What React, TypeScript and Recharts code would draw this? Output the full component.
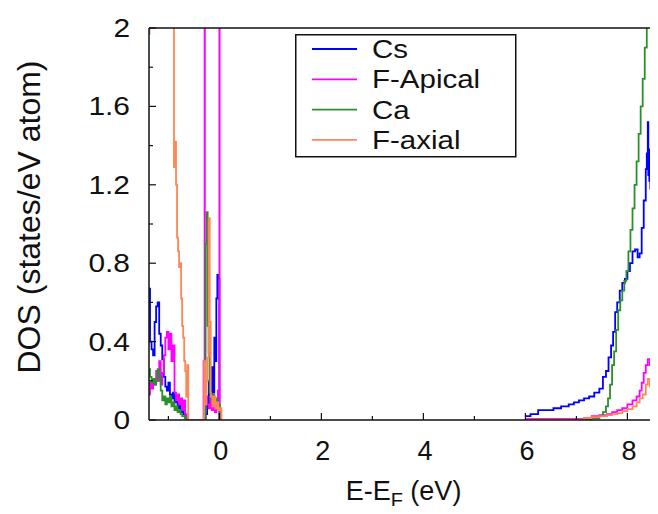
import { LineChart, Line, XAxis, YAxis, Legend, Label } from 'recharts'

// energy grid (eV) and DOS values per species; null marks the band gap (no states plotted)
const csEnergy = [
  -1.38, -1.36, -1.33, -1.3, -1.27, -1.24, -1.21, -1.18, -1.15, -1.12, -1.09, -1.06, -1.03, -1.0, -0.97,
  -0.94, -0.91, -0.88, -0.85, -0.82, -0.79, -0.76, -0.73, -0.7, -0.67, -0.64,
  -0.3, -0.27, -0.24, -0.21, -0.18, -0.15, -0.12, -0.1, -0.08, -0.06, -0.04, -0.02, 0.0, 0.03,
  3.0,
  6.0, 6.1, 6.25, 6.4, 6.55, 6.7, 6.85, 6.95, 7.05, 7.15, 7.25, 7.35, 7.45,
  7.52, 7.58, 7.63, 7.68, 7.72, 7.76, 7.8, 7.85, 7.9, 7.95, 8.0, 8.05, 8.1, 8.15, 8.2, 8.24, 8.28, 8.32, 8.36, 8.38, 8.4,
  8.41, 8.42, 8.43, 8.44, 8.45, 8.47, 8.49, 8.51, 8.53, 8.55, 8.57, 8.6,
]
const csDos = [
  0.67, 0.4, 0.36, 0.33, 0.5, 0.58, 0.6, 0.44, 0.38, 0.31, 0.22, 0.17, 0.15, 0.19, 0.13,
  0.11, 0.14, 0.09, 0.12, 0.06, 0.08, 0.04, 0.05, 0.03, 0.01, 0,
  0, 0.03, 0.08, 0.2, 0.08, 0.27, 0.14, 0.42, 0.3, 0.62, 0.74, 0.72, 0, 0,
  null,
  0.02, 0.03, 0.05, 0.05, 0.06, 0.07, 0.08, 0.09, 0.1, 0.11, 0.12, 0.14, 0.16,
  0.22, 0.25, 0.32, 0.38, 0.45, 0.55, 0.6, 0.66, 0.7, 0.72, 0.76, 0.8, 0.86, 0.87, 0.83, 0.85, 0.98, 1.12, 1.28, 1.36, 1.52,
  1.25, 1.38, 1.22, 1.34, 1.18, 1.3, 1.25, 1.31, 1.2, 1.02, 0.95, 0.93,
]

const apicalEnergy = [
  -1.38, -1.36, -1.33, -1.3, -1.27, -1.24, -1.21, -1.18, -1.15, -1.12, -1.09, -1.06, -1.03, -1.0, -0.97,
  -0.94, -0.91, -0.88, -0.85, -0.82, -0.79, -0.76, -0.73, -0.7, -0.67, -0.64,
  -0.33, -0.31, -0.29, -0.285, -0.27, -0.24, -0.21, -0.18, -0.15, -0.12, -0.09, -0.06, -0.03, 0.0, 0.005, 0.03,
  3.0,
  6.0, 7.1, 7.15, 7.3, 7.45, 7.6, 7.7, 7.8, 7.9, 8.0, 8.1, 8.18, 8.24, 8.28, 8.32, 8.36, 8.4, 8.44, 8.48, 8.52, 8.56, 8.6,
]
const apicalDos = [
  0.13, 0.19, 0.16, 0.21, 0.18, 0.25, 0.2, 0.3, 0.18, 0.24, 0.33, 0.42, 0.45, 0.36, 0.44,
  0.3, 0.38, 0.14, 0.1, 0.13, 0.08, 0.11, 0.05, 0.1, 0.03, 0,
  0, 0.3, 3, 0.12, 0.12, 0.08, 0.06, 0.12, 0.05, 0.09, 0.04, 0.1, 0.15, 3, 0, 0,
  null,
  0.005, 0.005, 0.01, 0.02, 0.025, 0.03, 0.04, 0.05, 0.06, 0.08, 0.1, 0.12, 0.15, 0.19, 0.24, 0.28, 0.31, 0.28, 0.26, 0.24, 0.22, 0.21,
]

const caEnergy = [
  -1.38, -1.36, -1.33, -1.3, -1.27, -1.24, -1.21, -1.18, -1.15, -1.12, -1.09, -1.06, -1.03, -1.0, -0.97,
  -0.94, -0.91, -0.88, -0.85, -0.82, -0.79, -0.76, -0.73, -0.7, -0.67, -0.64,
  -0.28, -0.27, -0.25, -0.23, -0.21, -0.19, -0.16, -0.13, -0.1, -0.07, -0.04, -0.01, 0.01, 0.04,
  3.0,
  6.0, 7.1, 7.15, 7.3, 7.45, 7.52, 7.58, 7.62, 7.66, 7.7, 7.74, 7.78, 7.82, 7.86, 7.9, 7.94, 7.98,
  8.02, 8.06, 8.1, 8.14, 8.18, 8.22, 8.26, 8.3, 8.34, 8.38, 8.42, 8.6,
]
const caDos = [
  0.26, 0.22, 0.19, 0.21, 0.18, 0.2, 0.26, 0.22, 0.15, 0.1, 0.12, 0.08, 0.11, 0.09, 0.12,
  0.07, 0.09, 0.05, 0.07, 0.04, 0.05, 0.03, 0.02, 0.02, 0.01, 0,
  0, 0.9, 1.06, 0.48, 0.34, 0.14, 0.1, 0.13, 0.08, 0.11, 0.06, 0.08, 0, 0,
  null,
  0, 0, 0.005, 0.01, 0.02, 0.04, 0.07, 0.11, 0.18, 0.28, 0.35, 0.46, 0.56, 0.61, 0.66, 0.71, 0.76,
  0.86, 0.97, 1.08, 1.2, 1.32, 1.46, 1.6, 1.74, 1.9, 2.1, 2.4, 2.8,
]

const axialEnergy = [
  -1.38, -1.37, -0.91,
  -0.89, -0.87, -0.85, -0.83, -0.81, -0.79, -0.77, -0.75, -0.73, -0.71, -0.69, -0.67, -0.65, -0.63, -0.61,
  -0.31, -0.3, -0.28, -0.26, -0.23, -0.21, -0.19, -0.17, -0.14, -0.11, -0.08, -0.05, -0.02, 0.01, 0.04,
  3.0,
  6.0, 7.1, 7.15, 7.3, 7.45, 7.6, 7.7, 7.8, 7.9, 8.0, 8.1, 8.18, 8.24, 8.3, 8.36, 8.4, 8.44, 8.48, 8.52, 8.56, 8.6,
]
const axialDos = [
  1.97, 3, 3,
  1.29, 1.42, 1.2, 0.93, 0.86, 0.78, 0.8, 0.62, 0.48, 0.42, 0.3, 0.25, 0.12, 0.28, 0,
  0, 0.3, 0.08, 0.2, 0.32, 1.03, 0.5, 0.12, 0.07, 0.12, 0.06, 0.09, 0.05, 0.06, 0,
  null,
  0.002, 0.002, 0.01, 0.015, 0.02, 0.025, 0.03, 0.035, 0.045, 0.055, 0.07, 0.09, 0.11, 0.13, 0.18, 0.21, 0.17, 0.18, 0.16, 0.18, 0.17,
]

const xTicks = [-1, 0, 1, 2, 3, 4, 5, 6, 7, 8]
const xLabelTicks = [0, 2, 4, 6, 8]
const yTicks = [0, 0.2, 0.4, 0.6, 0.8, 1, 1.2, 1.4, 1.6, 1.8, 2]
const yLabelTicks = [0, 0.4, 0.8, 1.2, 1.6, 2]

const FONT = '"Liberation Sans", Arial, Helvetica, sans-serif'
const INK = '#111'

function toPoints(energy: number[], dos: (number | null)[]) {
  const n = Math.min(energy.length, dos.length)
  const out: { e: number; dos: number | null }[] = []
  for (let i = 0; i < n; i++) out.push({ e: energy[i], dos: dos[i] })
  return out
}

const series = [
  { name: 'Cs', color: '#0000ff', data: toPoints(csEnergy, csDos) },
  { name: 'F-Apical', color: '#ff00ff', data: toPoints(apicalEnergy, apicalDos) },
  { name: 'Ca', color: '#2a912a', data: toPoints(caEnergy, caDos) },
  { name: 'F-axial', color: '#ff8655', data: toPoints(axialEnergy, axialDos) },
]
const seriesOrder = series.map((s) => s.name)

// gnuplot style: ticks point into the plot, labels only on the major ones
function BottomTick(props: any) {
  const { x, y, payload } = props
  const major = xLabelTicks.includes(payload.value)
  return (
    <g>
      <line x1={x} x2={x} y1={y} y2={y - (major ? 7 : 4)} stroke={INK} strokeWidth={1.2} />
      {major && (
        <text x={x + 1.5} y={y + 40} textAnchor="middle" fontSize={27} fontFamily={FONT} fill={INK}>
          {payload.value}
        </text>
      )}
    </g>
  )
}

function TopTick(props: any) {
  const { x, y, payload } = props
  const major = xLabelTicks.includes(payload.value)
  return <line x1={x} x2={x} y1={y} y2={y + (major ? 7 : 4)} stroke={INK} strokeWidth={1.2} />
}

function LeftTick(props: any) {
  const { x, y, payload } = props
  const major = yLabelTicks.includes(payload.value)
  return (
    <g>
      <line x1={x} x2={x + (major ? 7 : 4)} y1={y} y2={y} stroke={INK} strokeWidth={1.2} />
      {major && (
        <text
          transform={`translate(${x - 19},${y + 9}) scale(1.15,1)`}
          textAnchor="end"
          fontSize={26}
          fontFamily={FONT}
          fill={INK}
        >
          {String(payload.value)}
        </text>
      )}
    </g>
  )
}

function RightTick(props: any) {
  const { x, y, payload } = props
  const major = yLabelTicks.includes(payload.value)
  return <line x1={x} x2={x - (major ? 7 : 4)} y1={y} y2={y} stroke={INK} strokeWidth={1.2} />
}

function XTitle(props: any) {
  const { x, y, width } = props.viewBox
  return (
    <text x={x + width / 2} y={y + 80} textAnchor="middle" fontSize={27} fontFamily={FONT} fill={INK}>
      E-E
      <tspan fontSize={20} dy={7}>F</tspan>
      <tspan dy={-7}> (eV)</tspan>
    </text>
  )
}

function YTitle(props: any) {
  const { x, y, width, height } = props.viewBox
  const cx = x + width - 109
  const cy = y + height / 2 - 7
  return (
    <text
      x={cx}
      y={cy}
      transform={`rotate(-90, ${cx}, ${cy})`}
      textAnchor="middle"
      fontSize={32}
      fontFamily={FONT}
      fill={INK}
    >
      DOS (states/eV atom)
    </text>
  )
}

function LegendBox(props: any) {
  const payload = [...(props.payload || [])].sort(
    (a: any, b: any) => seriesOrder.indexOf(a.value) - seriesOrder.indexOf(b.value)
  )
  return (
    <svg width={222} height={124} style={{ display: 'block' }}>
      <rect x={0.75} y={0.75} width={220} height={122} fill="#fff" stroke={INK} strokeWidth={1.5} />
      {payload.map((entry: any, i: number) => {
        const cy = 15 + i * 30.3
        return (
          <g key={entry.value}>
            <line x1={17} x2={62} y1={cy} y2={cy} stroke={entry.color} strokeWidth={1.8} />
            <text
              transform={`translate(77,${cy + 9}) scale(1.18,1)`}
              fontSize={25}
              fontFamily={FONT}
              fill={INK}
            >
              {entry.value}
            </text>
          </g>
        )
      })}
    </svg>
  )
}

export default function App() {
  return (
    <div style={{ width: 650, height: 506, overflow: 'hidden', marginBottom: -8 }}>
      <LineChart width={660} height={506} margin={{ top: 19, right: 9, bottom: 0, left: 0 }}>
        <XAxis
          dataKey="e"
          type="number"
          domain={[-1.38, 8.6]}
          allowDataOverflow
          ticks={xTicks}
          interval={0}
          height={94}
          tickSize={0}
          tickMargin={0}
          tickLine={false}
          tick={BottomTick}
          axisLine={{ stroke: INK, strokeWidth: 1.5 }}
        >
          <Label content={XTitle} />
        </XAxis>
        <XAxis
          xAxisId="top"
          orientation="top"
          type="number"
          domain={[-1.38, 8.6]}
          allowDataOverflow
          ticks={xTicks}
          interval={0}
          height={1}
          tickSize={0}
          tickMargin={0}
          tickLine={false}
          tick={TopTick}
          axisLine={{ stroke: INK, strokeWidth: 1.5 }}
        />
        <YAxis
          type="number"
          domain={[0, 2]}
          allowDataOverflow
          ticks={yTicks}
          interval={0}
          width={141}
          tickSize={0}
          tickMargin={0}
          tickLine={false}
          tick={LeftTick}
          axisLine={{ stroke: INK, strokeWidth: 1.5 }}
        >
          <Label content={YTitle} />
        </YAxis>
        <YAxis
          yAxisId="right"
          orientation="right"
          type="number"
          domain={[0, 2]}
          allowDataOverflow
          ticks={yTicks}
          interval={0}
          width={1}
          tickSize={0}
          tickMargin={0}
          tickLine={false}
          tick={RightTick}
          axisLine={{ stroke: INK, strokeWidth: 1.5 }}
        />
        {series.map((s) => (
          <Line
            key={s.name}
            name={s.name}
            data={s.data}
            dataKey="dos"
            type="stepAfter"
            stroke={s.color}
            strokeWidth={1.8}
            dot={false}
            activeDot={false}
            isAnimationActive={false}
          />
        ))}
        <Legend
          layout="vertical"
          align="center"
          verticalAlign="middle"
          content={LegendBox}
          wrapperStyle={{ position: 'absolute', left: 287, top: 26, width: 222, height: 124 }}
        />
      </LineChart>
    </div>
  )
}
